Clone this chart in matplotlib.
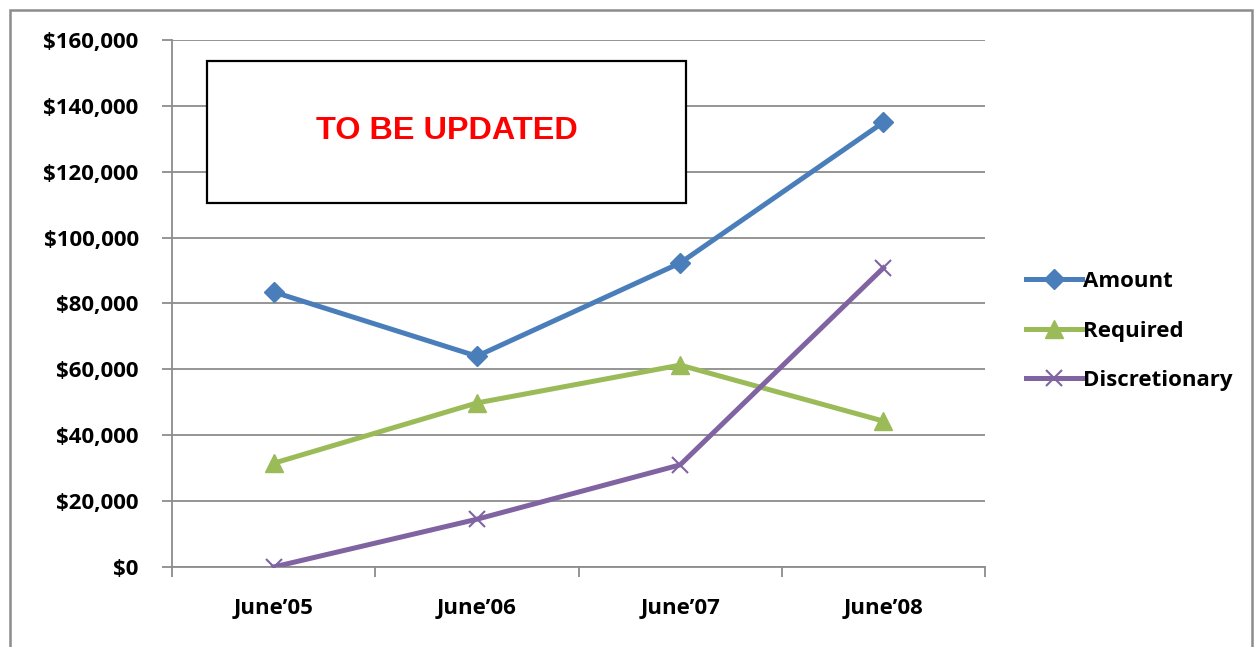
import matplotlib
matplotlib.use("Agg")
import matplotlib.pyplot as plt
from matplotlib.patches import Rectangle
from matplotlib.ticker import FuncFormatter, FixedLocator

categories = ["June\u201905", "June\u201906", "June\u201907", "June\u201908"]
amount = [83500, 64000, 92300, 135000]
required = [31500, 49800, 61300, 44300]
discretionary = [0, 14500, 31000, 90800]

FONT = "Open Sans"
FS = 16

fig = plt.figure(figsize=(12.57, 6.47), dpi=100)
ax = fig.add_axes([172/1257, 80/647, (985-172)/1257, (567-40)/647])

x = list(range(len(categories)))
ax.plot(x, amount, color="#4A7EBB", lw=3.6, marker="D", ms=10, label="Amount", zorder=3)
ax.plot(x, required, color="#9BBB59", lw=3.6, marker="^", ms=13, label="Required", zorder=3)
ax.plot(x, discretionary, color="#8064A2", lw=3.6, marker="x", ms=12, mew=1.5, label="Discretionary", zorder=3)

ax.set_xlim(-0.5, 3.5)
ax.set_ylim(0, 160000)
ax.yaxis.set_major_locator(FixedLocator(range(0, 160001, 20000)))
ax.yaxis.set_major_formatter(FuncFormatter(lambda v, p: "${:,.0f}".format(v)))
ax.grid(axis="y", color="#8C8C8C", lw=1.3, zorder=0)

ax.set_xticks([-0.5, 0.5, 1.5, 2.5, 3.5])
ax.set_xticklabels([])
ax.set_xticks(x, minor=True)
ax.set_xticklabels(categories, minor=True)
ax.tick_params(axis="x", which="major", length=7, color="#8C8C8C", width=1.3)
ax.tick_params(axis="x", which="minor", length=0, pad=22)
ax.tick_params(axis="y", length=7, color="#8C8C8C", width=1.3, pad=17)

for lab in ax.get_xticklabels(minor=True) + ax.get_yticklabels():
    lab.set_fontfamily(FONT)
    lab.set_fontweight("bold")
    lab.set_fontsize(FS)

for s in ["top", "right"]:
    ax.spines[s].set_visible(False)
for s in ["left", "bottom"]:
    ax.spines[s].set_color("#8C8C8C")
    ax.spines[s].set_linewidth(1.3)

# text box
ax.add_patch(Rectangle((207, 647-203), 686-207, 203-61, transform=None,
                       fill=True, facecolor="white", edgecolor="black", lw=1.6, zorder=4))
fig.text(447/1257, 1-131/647, "TO BE UPDATED", color="red", fontfamily="Liberation Sans",
         fontweight="bold", fontsize=23.3, ha="center", va="center", zorder=5)

leg = fig.legend(loc="center left", bbox_to_anchor=(1006/1257, 1-331/647), frameon=False,
                 prop={"family": FONT, "weight": "bold", "size": FS},
                 handlelength=2.5, handletextpad=0.08, labelspacing=1.28)

fig.patches.append(Rectangle((10/1257, -0.05), 1242/1257, 1.05 - 10/647,
                             transform=fig.transFigure, fill=False, edgecolor="#8C8C8C", lw=1.8))

fig.savefig("out.png", dpi=100)
